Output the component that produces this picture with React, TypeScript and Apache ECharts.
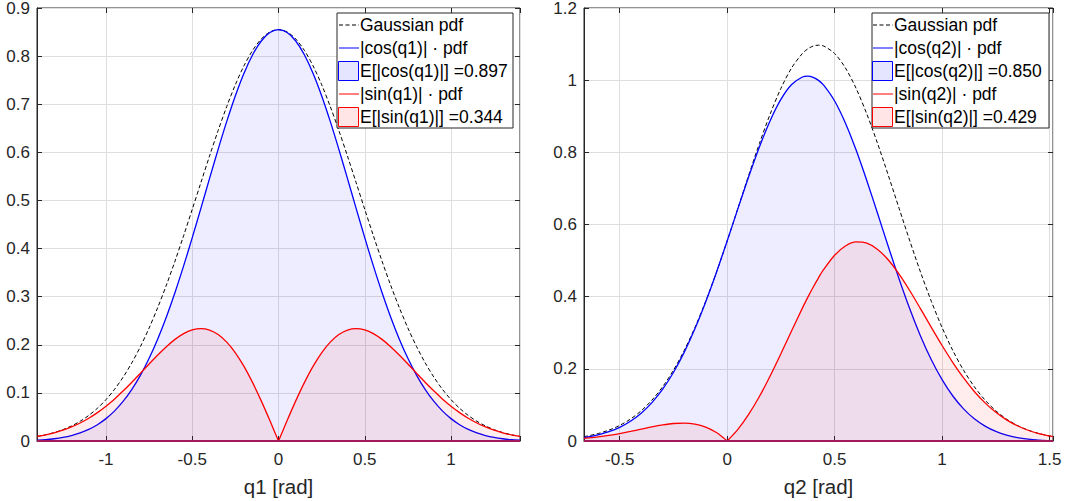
import React, { useEffect, useRef } from 'react';
import * as echarts from 'echarts';

// ---------- Data ----------
// Left panel: q1
const Q1_X = [-1.4, -1.35, -1.3, -1.25, -1.2, -1.15, -1.1, -1.05, -1.0, -0.95, -0.9, -0.85, -0.8, -0.75, -0.7, -0.65, -0.6, -0.55, -0.5, -0.45, -0.4, -0.35, -0.3, -0.25, -0.2, -0.15, -0.1, -0.05,
  0,
  0.05, 0.1, 0.15, 0.2, 0.25, 0.3, 0.35, 0.4, 0.45, 0.5, 0.55, 0.6, 0.65, 0.7, 0.75, 0.8, 0.85, 0.9, 0.95, 1.0, 1.05, 1.1, 1.15, 1.2, 1.25, 1.3, 1.35, 1.4];
const Q1_PDF = [0.0095, 0.0130, 0.0176, 0.0236, 0.0313, 0.0410, 0.0531, 0.0680, 0.0860, 0.1076, 0.1331, 0.1627, 0.1966, 0.2349, 0.2775, 0.3240, 0.3740, 0.4268, 0.4815, 0.5370, 0.5921, 0.6453, 0.6953, 0.7407, 0.7800, 0.8119, 0.8356, 0.8501,
  0.8550,
  0.8501, 0.8356, 0.8119, 0.7800, 0.7407, 0.6953, 0.6453, 0.5921, 0.5370, 0.4815, 0.4268, 0.3740, 0.3240, 0.2775, 0.2349, 0.1966, 0.1627, 0.1331, 0.1076, 0.0860, 0.0680, 0.0531, 0.0410, 0.0313, 0.0236, 0.0176, 0.0130, 0.0095];
const Q1_COS = [0.0016, 0.0028, 0.0047, 0.0074, 0.0113, 0.0167, 0.0241, 0.0338, 0.0465, 0.0626, 0.0827, 0.1074, 0.1370, 0.1719, 0.2122, 0.2579, 0.3087, 0.3639, 0.4226, 0.4835, 0.5454, 0.6062, 0.6643, 0.7177, 0.7645, 0.8028, 0.8314, 0.8490,
  0.8550,
  0.8490, 0.8314, 0.8028, 0.7645, 0.7177, 0.6643, 0.6062, 0.5454, 0.4835, 0.4226, 0.3639, 0.3087, 0.2579, 0.2122, 0.1719, 0.1370, 0.1074, 0.0827, 0.0626, 0.0465, 0.0338, 0.0241, 0.0167, 0.0113, 0.0074, 0.0047, 0.0028, 0.0016];
const Q1_SIN = [0.0094, 0.0127, 0.0170, 0.0224, 0.0292, 0.0374, 0.0473, 0.0590, 0.0724, 0.0875, 0.1043, 0.1222, 0.1410, 0.1601, 0.1788, 0.1961, 0.2112, 0.2231, 0.2308, 0.2336, 0.2306, 0.2213, 0.2055, 0.1833, 0.1550, 0.1213, 0.0834, 0.0425,
  0,
  0.0425, 0.0834, 0.1213, 0.1550, 0.1833, 0.2055, 0.2213, 0.2306, 0.2336, 0.2308, 0.2231, 0.2112, 0.1961, 0.1788, 0.1601, 0.1410, 0.1222, 0.1043, 0.0875, 0.0724, 0.0590, 0.0473, 0.0374, 0.0292, 0.0224, 0.0170, 0.0127, 0.0094];
const Q1_RANGE = [-1.4, 1.4];

// Right panel: q2
const Q2_X = [-0.666, -0.65, -0.6, -0.55, -0.5, -0.45, -0.4, -0.35, -0.3, -0.25, -0.2, -0.15, -0.1, -0.05,
  0,
  0.05, 0.1, 0.15, 0.2, 0.25, 0.3, 0.35, 0.375, 0.4, 0.425, 0.45, 0.5, 0.55, 0.6, 0.65, 0.7, 0.75, 0.8, 0.85, 0.9, 0.95,
  1.0, 1.05, 1.1, 1.15, 1.2, 1.25, 1.3, 1.35, 1.4, 1.45, 1.5, 1.516];
const Q2_PDF = [0.0122, 0.0139, 0.0207, 0.0302, 0.0432, 0.0607, 0.0837, 0.1133, 0.1504, 0.1960, 0.2506, 0.3144, 0.3870, 0.4675,
  0.5542,
  0.6447, 0.7359, 0.8243, 0.9059, 0.9771, 1.0341, 1.0739, 1.0867, 1.0944, 1.0970, 1.0944, 1.0739, 1.0341, 0.9771, 0.9059, 0.8243, 0.7359, 0.6447, 0.5542, 0.4675, 0.3870,
  0.3144, 0.2506, 0.1960, 0.1504, 0.1133, 0.0837, 0.0607, 0.0432, 0.0302, 0.0207, 0.0139, 0.0122];
const Q2_COS = [0.0096, 0.0111, 0.0171, 0.0257, 0.0379, 0.0547, 0.0771, 0.1064, 0.1437, 0.1899, 0.2456, 0.3109, 0.3851, 0.4669,
  0.5542,
  0.6439, 0.7322, 0.8150, 0.8878, 0.9467, 0.9879, 1.0088, 1.0112, 1.0080, 0.9994, 0.9855, 0.9424, 0.8816, 0.8064, 0.7212, 0.6305, 0.5385, 0.4492, 0.3658, 0.2906, 0.2251,
  0.1699, 0.1247, 0.0889, 0.0614, 0.0411, 0.0264, 0.0162, 0.0095, 0.0051, 0.0025, 0.0010, 0.0007];
const Q2_SIN = [0.0075, 0.0084, 0.0117, 0.0158, 0.0207, 0.0264, 0.0326, 0.0389, 0.0444, 0.0485, 0.0498, 0.0470, 0.0386, 0.0234,
  0,
  0.0322, 0.0735, 0.1232, 0.1800, 0.2417, 0.3056, 0.3682, 0.3980, 0.4262, 0.4523, 0.4760, 0.5149, 0.5405, 0.5517, 0.5482, 0.5310, 0.5016, 0.4625, 0.4164, 0.3662, 0.3148,
  0.2646, 0.2174, 0.1747, 0.1373, 0.1056, 0.0794, 0.0585, 0.0422, 0.0298, 0.0205, 0.0139, 0.0122];
const Q2_RANGE = [-0.666, 1.516];

const Y1_MAX = 0.9;
const Y1_STEP = 0.1;
const Y2_MAX = 1.2;
const Y2_STEP = 0.2;

const LEGEND1 = ['Gaussian pdf', '|cos(q1)| \u00b7 pdf', 'E[|cos(q1)|] =0.897', '|sin(q1)| \u00b7 pdf', 'E[|sin(q1)|] =0.344'];
const LEGEND2 = ['Gaussian pdf', '|cos(q2)| \u00b7 pdf', 'E[|cos(q2)|] =0.850', '|sin(q2)| \u00b7 pdf', 'E[|sin(q2)|] =0.429'];
const XNAMES = ['q1 [rad]', 'q2 [rad]'];

// ---------- Helpers ----------
const FONT = '"Liberation Sans", Arial, Helvetica, sans-serif';
const AX = '#262626';
const BLUE = '#0000ff';
const RED = '#ff0000';
const BLUE_FILL = 'rgba(0,0,255,0.1)';
const RED_FILL = 'rgba(255,0,0,0.1)';

function pairs(xs: number[], ys: number[]) {
  return xs.map((x, i) => [x, ys[i]]);
}

function panelSeries(idx: number, xs: number[], pdf: number[], cos: number[], sin: number[], range: number[]) {
  const zero = xs.indexOf(0);
  const base = { type: 'line', xAxisIndex: idx, yAxisIndex: idx, symbol: 'none', showSymbol: false, silent: true };
  const sm = 0.3;
  return [
    { ...base, name: 'pdf' + idx, data: pairs(xs, pdf), smooth: sm, lineStyle: { color: '#000', width: 1, type: [4, 2.5] }, z: 2 },
    { ...base, name: 'cos' + idx, data: pairs(xs, cos), smooth: sm, lineStyle: { color: BLUE, width: 1.3 }, areaStyle: { color: BLUE_FILL }, z: 3 },
    { ...base, name: 'sinL' + idx, data: pairs(xs.slice(0, zero + 1), sin.slice(0, zero + 1)), smooth: sm, lineStyle: { color: RED, width: 1.3 }, areaStyle: { color: RED_FILL }, z: 4 },
    { ...base, name: 'sinR' + idx, data: pairs(xs.slice(zero), sin.slice(zero)), smooth: sm, lineStyle: { color: RED, width: 1.3 }, areaStyle: { color: RED_FILL }, z: 4 },
    { ...base, name: 'base' + idx, data: [[range[0], 0], [range[1], 0]], lineStyle: { color: '#a2195b', width: 2 }, z: 5 },
  ];
}

function legendGraphic(left: number, top: number, width: number, height: number, iconLeft: number, textLeft: number, labels: string[]) {
  const rows = labels.map((_, i) => top + 12 + i * 23);
  const els: any[] = [
    { type: 'rect', shape: { x: left, y: top, width, height }, style: { fill: '#ffffff', stroke: AX, lineWidth: 1 }, z: 100 },
    { type: 'line', shape: { x1: iconLeft, y1: rows[0], x2: iconLeft + 20, y2: rows[0] }, style: { stroke: '#000', lineWidth: 1, lineDash: [4, 2.5] }, z: 101 },
    { type: 'line', shape: { x1: iconLeft, y1: rows[1], x2: iconLeft + 20, y2: rows[1] }, style: { stroke: BLUE, lineWidth: 1 }, z: 101 },
    { type: 'rect', shape: { x: iconLeft - 0.5, y: rows[2] - 9.5, width: 20, height: 19 }, style: { fill: BLUE_FILL, stroke: BLUE, lineWidth: 1 }, z: 101 },
    { type: 'line', shape: { x1: iconLeft, y1: rows[3], x2: iconLeft + 20, y2: rows[3] }, style: { stroke: RED, lineWidth: 1 }, z: 101 },
    { type: 'rect', shape: { x: iconLeft - 0.5, y: rows[4] - 9.5, width: 20, height: 19 }, style: { fill: RED_FILL, stroke: RED, lineWidth: 1 }, z: 101 },
  ];
  labels.forEach((t, i) => {
    els.push({
      type: 'text', x: textLeft, y: rows[i], z: 102,
      style: { text: t, fill: '#000', font: '17.5px ' + FONT, align: 'left', verticalAlign: 'middle', textAlign: 'left', textVerticalAlign: 'middle' },
    });
  });
  return els;
}

const halfFormatter = (v: number) => {
  const r = Math.round(v * 2) / 2;
  if (Math.abs(v - r) > 1e-6) return '';
  return String(Number(r.toFixed(1)));
};

export default function App() {
  const ref = useRef<HTMLDivElement>(null);

  useEffect(() => {
    document.body.style.margin = '0';
    if (!ref.current) return;
    const chart = echarts.init(ref.current, undefined, { renderer: 'svg' });

    const grids = [
      { left: 37, top: 8, width: 483, height: 433 },
      { left: 584, top: 8, width: 469, height: 433 },
    ].map((g) => ({ ...g, show: true, borderColor: AX, borderWidth: 1, backgroundColor: 'transparent', containLabel: false, outerBoundsMode: 'none' }));

    const ranges = [Q1_RANGE, Q2_RANGE];
    const ymax = [Y1_MAX, Y2_MAX];
    const ystep = [Y1_STEP, Y2_STEP];

    const xAxes: any[] = [];
    const yAxes: any[] = [];
    [0, 1].forEach((i) => {
      xAxes.push({
        type: 'value', gridIndex: i, min: ranges[i][0], max: ranges[i][1], position: 'bottom',
        name: XNAMES[i], nameLocation: 'middle', nameGap: 35,
        nameTextStyle: { color: AX, fontSize: 20.5, fontFamily: FONT },
        axisLine: { show: true, onZero: false, lineStyle: { color: AX, width: 1 } },
        axisTick: { show: true, inside: true, length: 5, lineStyle: { color: AX } },
        axisLabel: { color: AX, fontSize: 17, fontFamily: FONT, margin: 10, formatter: halfFormatter, showMinLabel: true, showMaxLabel: true },
        splitLine: { show: true, lineStyle: { color: '#dedede', width: 1 } },
      });
      yAxes.push({
        type: 'value', gridIndex: i, min: 0, max: ymax[i], interval: ystep[i], position: 'left',
        axisLine: { show: true, onZero: false, lineStyle: { color: AX, width: 1 } },
        axisTick: { show: true, inside: true, length: 5, lineStyle: { color: AX } },
        axisLabel: { color: AX, fontSize: 17, fontFamily: FONT, margin: 7 },
        splitLine: { show: true, lineStyle: { color: '#dedede', width: 1 } },
      });
    });
    // top / right tick-only axes (box with ticks)
    [0, 1].forEach((i) => {
      xAxes.push({
        type: 'value', gridIndex: i, min: ranges[i][0], max: ranges[i][1], position: 'top',
        axisLine: { show: false, onZero: false }, axisLabel: { show: false }, splitLine: { show: false },
        axisTick: { show: true, inside: true, length: 5, lineStyle: { color: AX } },
      });
      yAxes.push({
        type: 'value', gridIndex: i, min: 0, max: ymax[i], interval: ystep[i], position: 'right',
        axisLine: { show: false, onZero: false }, axisLabel: { show: false }, splitLine: { show: false },
        axisTick: { show: true, inside: true, length: 5, lineStyle: { color: AX } },
      });
    });

    const option: any = {
      animation: false,
      backgroundColor: '#ffffff',
      textStyle: { fontFamily: FONT },
      grid: grids,
      xAxis: xAxes,
      yAxis: yAxes,
      series: [
        ...panelSeries(0, Q1_X, Q1_PDF, Q1_COS, Q1_SIN, Q1_RANGE),
        ...panelSeries(1, Q2_X, Q2_PDF, Q2_COS, Q2_SIN, Q2_RANGE),
      ],
      graphic: [
        ...legendGraphic(337, 13, 176, 115, 339, 360, LEGEND1),
        ...legendGraphic(872, 13, 177, 115, 873, 894, LEGEND2),
      ],
    };
    chart.setOption(option);
    return () => chart.dispose();
  }, []);

  return <div ref={ref} style={{ width: 1067, height: 501 }} />;
}
